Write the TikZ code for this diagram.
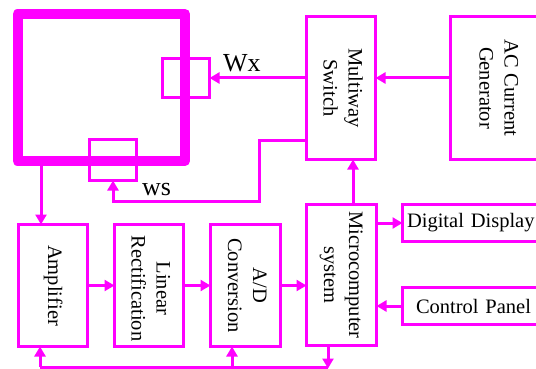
\documentclass[tikz,border=0pt]{standalone}
\usepackage{fontspec}
\setmainfont{Liberation Serif}
\usetikzlibrary{arrows.meta}
\definecolor{mag}{HTML}{FF00FF}
\tikzset{
  box/.style={draw=mag, line width=3pt, inner sep=0pt, outer sep=0pt, rectangle,
    font=\fontsize{20.5}{25}\selectfont, text=black},
  arr/.style={draw=mag, line width=3pt, -{Triangle[length=10pt,width=11pt]}},
  ln/.style={draw=mag, line width=3pt},
  lbl/.style={font=\fontsize{26}{30}\selectfont, text=black, inner sep=0pt}
}
\newcommand{\vtext}[1]{\rotatebox{-90}{\begin{tabular}{@{}c@{}}#1\end{tabular}}}
\begin{document}
\begin{tikzpicture}[x=1pt,y=-1pt]
\useasboundingbox (0,0) rectangle (536,369);
\clip (0,0) rectangle (536,369);
% sensor square
\node[draw=mag, line width=10pt, line join=round, inner sep=0pt, outer sep=0pt,
  minimum width=167.5pt, minimum height=147pt] (core) at (101.25,87.5) {};
\node[box, fill=none, minimum width=47pt, minimum height=39pt] (wx) at (186,78) {};
\node[box, minimum width=47pt, minimum height=41pt] (ws) at (113,160) {};
\node[lbl, anchor=base west] (wxl) at (223,72) {Wx};
\node[lbl, anchor=base west] (wsl) at (142,195) {ws};
% upper right boxes
\node[box, minimum width=69pt, minimum height=143pt] (ms) at (341,88) {\vtext{Multiway\\Switch}};
\node[box, minimum width=93pt, minimum height=143pt] (ac) at (497,88) {\vtext{AC Current\\Generator}};
% lower row
\node[box, minimum width=69pt, minimum height=122pt] (amp) at (53,285.5) {\vtext{Amplifier}};
\node[box, minimum width=69pt, minimum height=122pt] (lin) at (149,285.5) {\raisebox{-6pt}{\vtext{Linear\\Rectification}}};
\node[box, minimum width=70pt, minimum height=122pt] (ad) at (245.5,285.5) {\vtext{A/D\\Conversion}};
\node[box, minimum width=70pt, minimum height=141pt] (mc) at (341.5,275) {\vtext{Microcomputer\\system}};
\node[box, anchor=west, minimum height=37pt, text width=150pt, align=left, inner xsep=4.5pt] (dd) at (402.5,223) {Digital Display};
\node[box, anchor=west, minimum height=37pt, text width=150pt, align=left, inner xsep=13.5pt] (cp) at (402.5,306) {Control Panel};
% coordinates
\coordinate (w1) at (259,140);
\coordinate (w2) at (259,201);
\coordinate (w3) at (113,201);
\coordinate (c1) at (41,166);
\coordinate (m1) at (353,203);
\coordinate (b1) at (40,367);
\coordinate (b2) at (232,367);
\coordinate (b3) at (328,367);
% connectors
\draw[arr] (ac.west |- wx.east) -- (ms.east |- wx.east);
\draw[arr] (ms.west |- wx.east) -- (wx.east);
\draw[arr] (ms.west |- w1) -- (w1) -- (w2) -- (w3) -- (ws.south);
\draw[arr] (c1) -- (c1 |- amp.north);
\draw[arr] (m1) -- (m1 |- ms.south);
\draw[arr] (mc.east |- dd.west) -- (dd.west);
\draw[arr] (cp.west) -- (mc.east |- cp.west);
\draw[arr] (amp.east) -- (lin.west);
\draw[arr] (lin.east) -- (ad.west);
\draw[arr] (ad.east) -- (mc.west |- ad.east);
\draw[ln] (b1) -- (b3);
\draw[arr] (b1) -- (b1 |- amp.south);
\draw[arr] (b2) -- (b2 |- ad.south);
\draw[arr] (b3 |- mc.south) -- ([yshift=-1.5pt]b3);
\end{tikzpicture}
\end{document}
